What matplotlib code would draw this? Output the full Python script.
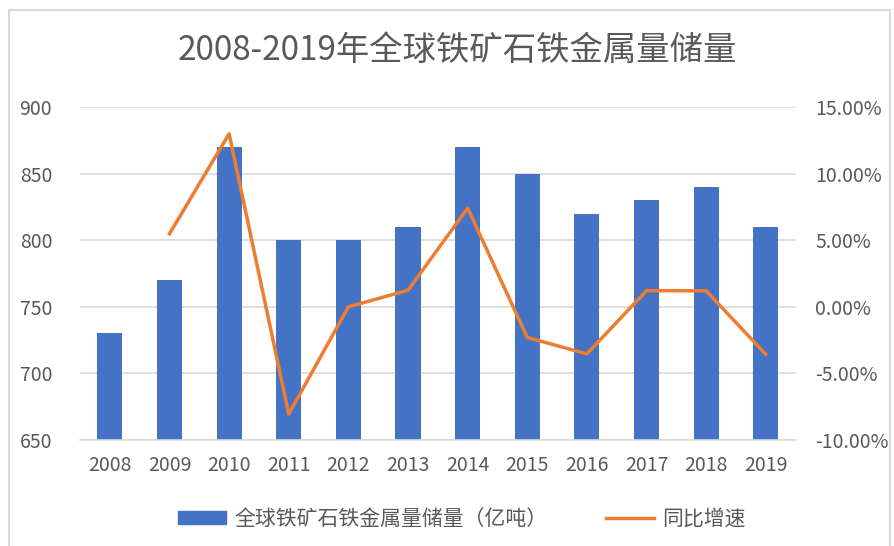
import matplotlib.pyplot as plt
import matplotlib.patches as mpatches
from matplotlib.ticker import FuncFormatter

plt.rcParams['font.family'] = ['Noto Sans CJK SC', 'DejaVu Sans']

years = ['2008', '2009', '2010', '2011', '2012', '2013', '2014', '2015', '2016', '2017', '2018', '2019']
reserves = [730, 770, 870, 800, 800, 810, 870, 850, 820, 830, 840, 810]
growth = [None, 5.48, 12.99, -8.05, 0.0, 1.25, 7.41, -2.30, -3.53, 1.22, 1.20, -3.57]

BAR_COLOR = '#4472C4'
LINE_COLOR = '#ED7D31'
TEXT_COLOR = '#595959'
GRID_COLOR = '#D9D9D9'


def main():
    fig = plt.figure(figsize=(8.94, 5.46), dpi=100)
    ax = fig.add_axes([0.0895, 0.194, 0.8005, 0.610])
    x = list(range(len(years)))

    ax.bar(x, reserves, width=0.42, color=BAR_COLOR, zorder=2,
           label='全球铁矿石铁金属量储量（亿吨）')
    ax.set_ylim(650, 900)
    ax.set_yticks(range(650, 901, 50))
    ax.set_xlim(-0.5, len(years) - 0.5)
    ax.set_xticks(x)
    ax.set_xticklabels(years)
    ax.yaxis.grid(True, color=GRID_COLOR, linewidth=1.2, zorder=0)
    ax.set_axisbelow(True)
    for s in ax.spines.values():
        s.set_visible(False)
    ax.spines['bottom'].set_visible(True)
    ax.spines['bottom'].set_color(GRID_COLOR)
    ax.spines['bottom'].set_linewidth(1.2)
    ax.tick_params(axis='both', length=0, colors=TEXT_COLOR, labelsize=14)
    ax.tick_params(axis='x', pad=11)
    ax.tick_params(axis='y', pad=20)

    ax2 = ax.twinx()
    gx = [i for i, g in zip(x, growth) if g is not None]
    gy = [g for g in growth if g is not None]
    ax2.plot(gx, gy, color=LINE_COLOR, linewidth=2.5, zorder=3, label='同比增速')
    ax2.set_ylim(-10, 15)
    ax2.set_yticks(range(-10, 16, 5))
    ax2.yaxis.set_major_formatter(FuncFormatter(lambda v, _: f'{v:.2f}%'))
    for s in ax2.spines.values():
        s.set_visible(False)
    ax2.tick_params(axis='y', length=0, colors=TEXT_COLOR, labelsize=14, pad=14)

    fig.text(0.512, 0.908, '2008-2019年全球铁矿石铁金属量储量', ha='center', va='center',
             fontsize=24, color=TEXT_COLOR)

    handles = [mpatches.Patch(color=BAR_COLOR),
               plt.Line2D([], [], color=LINE_COLOR, linewidth=2.5)]
    labels = ['全球铁矿石铁金属量储量（亿吨）', '同比增速']
    leg = fig.legend(handles, labels, loc='center', bbox_to_anchor=(0.517, 0.05), ncol=2,
                     frameon=False, fontsize=15, handlelength=2.3, handletextpad=0.4,
                     columnspacing=2.8, handleheight=0.6)
    for t in leg.get_texts():
        t.set_color(TEXT_COLOR)

    border = mpatches.Rectangle((0.01, -0.01), 0.985, 0.992, transform=fig.transFigure,
                                fill=False, edgecolor='#D9D9D9', linewidth=1.5)
    fig.patches.append(border)

    fig.savefig('out.png', dpi=100)


if __name__ == '__main__':
    main()
